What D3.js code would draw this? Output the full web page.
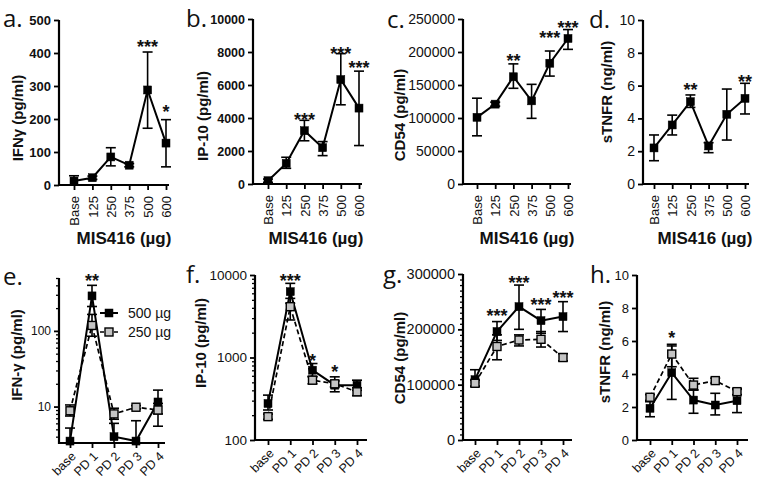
<!DOCTYPE html>
<html><head><meta charset="utf-8">
<script src="https://cdn.jsdelivr.net/npm/d3@7"></script>
<style>body{margin:0;background:#fff} svg{display:block}</style>
</head><body>
<svg id="chart" width="759" height="485"></svg>
<script>
// ---------- DATA ----------
const doseCats = ["Base","125","250","375","500","600"];
const dayCats  = ["base","PD 1","PD 2","PD 3","PD 4"];

// a. IFNγ vs dose
const ifnMean = [12,22,85,60,288,127];
const ifnLow  = [0,17,58,55,172,55];
const ifnHigh = [28,27,113,65,403,198];
const ifnTicks = [0,100,200,300,400,500];
const ifnStars = [{cat:"500",label:"***",at:434},{cat:"600",label:"*",at:235}];

// b. IP-10 vs dose
const ipMean = [200,1250,3230,2200,6330,4600];
const ipLow  = [100,950,2620,1720,4800,2330];
const ipHigh = [300,1620,3860,2570,7900,6840];
const ipTicks = [0,2000,4000,6000,8000,10000];
const ipStars = [{cat:"250",label:"***",at:4200},{cat:"500",label:"***",at:8140},{cat:"600",label:"***",at:7330}];

// c. CD54 vs dose
const cdMean = [101000,121000,162500,126000,183000,220500];
const cdLow  = [73000,118000,145000,99500,163500,204000];
const cdHigh = [130000,124000,182000,151000,201500,234000];
const cdTicks = [0,50000,100000,150000,200000,250000];
const cdStars = [{cat:"250",label:"**",at:193000},{cat:"500",label:"***",at:228000},{cat:"600",label:"***",at:244000}];

// d. sTNFR vs dose
const tnMean = [2.2,3.6,5.02,2.32,4.25,5.22];
const tnLow  = [1.42,2.99,4.67,1.91,2.68,4.27];
const tnHigh = [2.99,4.2,5.43,2.52,5.79,6.14];
const tnTicks = [0,2,4,6,8,10];
const tnStars = [{cat:"250",label:"**",at:6.04},{cat:"600",label:"**",at:6.54}];

// series names
const seriesNames = ["500 µg","250 µg"];

// e. IFN-γ over days (log)
const eHiMean = [3.5,290,4.0,3.5,11.5];
const eHiLow  = [3.3,210,3.3,3.3,8.0];
const eHiHigh = [5.2,400,6.0,6.5,16.5];
const eLoMean = [8.8,118,8.0,9.8,9.0];
const eLoLow  = [7.5,85,6.8,9.3,5.5];
const eLoHigh = [10.5,165,9.5,10.3,11.0];
const eTicks = [10,100];
const eMinor = [4,5,6,7,8,9,20,30,40,50,60,70,80,90,200,300,400,500];
const eStars = [{cat:"PD 1",label:"**",at:530}];

// f. IP-10 over days (log)
const fHiMean = [277,6280,702,462,462];
const fHiLow  = [231,4540,583,384,400];
const fHiHigh = [350,7920,845,583,531];
const fLoMean = [192,4130,531,480,384];
const fLoLow  = [178,2850,480,440,345];
const fLoHigh = [206,5210,590,520,430];
const fTicks = [100,1000,10000];
const fMinor = [200,300,400,500,600,700,800,900,2000,3000,4000,5000,6000,7000,8000,9000];
const fStars = [{cat:"PD 1",label:"***",at:9800},{cat:"PD 2",label:"*",at:1040},{cat:"PD 3",label:"*",at:757}];

// g. CD54 over days
const gHiMean = [109000,196000,241000,215700,223000];
const gHiLow  = [97000,180000,200000,193000,196000];
const gHiHigh = [127000,214000,280000,236000,250000];
const gLoMean = [102500,169000,180700,182000,149000];
const gLoLow  = [97000,145000,170000,168000,143000];
const gLoHigh = [108000,190000,190000,196000,156000];
const gTicks = [0,100000,200000,300000];
const gMinor = d3.range(10000,300000,10000).filter(v => v % 100000 !== 0);
const gStars = [{cat:"PD 1",label:"***",at:232000},{cat:"PD 2",label:"***",at:292000},{cat:"PD 3",label:"***",at:252000},{cat:"PD 4",label:"***",at:266000}];

// h. sTNFR over days
const hHiMean = [1.92,4.08,2.42,2.12,2.38];
const hHiLow  = [1.41,2.46,1.62,1.52,1.66];
const hHiHigh = [2.32,5.7,3.03,2.83,3.07];
const hLoMean = [2.59,5.21,3.33,3.6,2.93];
const hLoLow  = [2.4,4.44,3.03,3.45,2.75];
const hLoHigh = [2.75,5.8,3.74,3.75,3.1];
const hTicks = [0,2,4,6,8,10];
const hStars = [{cat:"PD 1",label:"*",at:6.45}];

// ---------- DRAWING ----------
const svg = d3.select("#chart");
const FONT = "'Liberation Sans', Arial, sans-serif";
const LETTER_FONT = "'Open Sans', 'Liberation Sans', sans-serif";
const GRAY = "#c4c4c4";

function zip(cats, mean, lo, hi) {
  return cats.map((c,i) => ({cat:c, v:mean[i], lo:lo[i], hi:hi[i]}));
}

function panel(cfg) {
  const g = svg.append("g");
  const y = (cfg.log ? d3.scaleLog() : d3.scaleLinear()).domain(cfg.domain).range(cfg.yRange);
  const x = d3.scalePoint().domain(cfg.cats).range(cfg.xRange);
  const y0 = cfg.yRange[0], yTop = cfg.yRange[1];

  if (cfg.minor) {
    const mg = g.append("g").attr("transform",`translate(${cfg.ax},0)`)
      .call(d3.axisLeft(y).tickValues(cfg.minor).tickSize(3).tickFormat(""));
    mg.select(".domain").remove();
    mg.selectAll("line").attr("stroke","#000").attr("stroke-width",1.3);
  }
  const yg = g.append("g").attr("transform",`translate(${cfg.ax},0)`)
    .call(d3.axisLeft(y).tickValues(cfg.ticks).tickSize(5).tickPadding(3).tickFormat(d3.format("d")));
  yg.select(".domain").remove();
  yg.selectAll("line").attr("stroke","#000").attr("stroke-width",1.8);
  yg.selectAll("text").attr("font-family",FONT).attr("font-size",cfg.tickFont)
    .attr("font-weight",cfg.tickWeight || "normal").attr("fill","#111");
  g.append("line").attr("x1",cfg.ax).attr("x2",cfg.ax).attr("y1",y0+1).attr("y2",yTop)
    .attr("stroke","#000").attr("stroke-width",2.2);

  const xg = g.append("g").attr("transform",`translate(0,${y0})`)
    .call(d3.axisBottom(x).tickSize(5).tickPadding(6));
  xg.select(".domain").remove();
  xg.selectAll("line").attr("stroke","#000").attr("stroke-width",1.8);
  const xt = xg.selectAll("text").attr("font-family",FONT).attr("font-size",cfg.xTickFont).attr("fill","#111");
  if (cfg.rot === -90) {
    xt.attr("text-anchor","end").attr("transform","rotate(-90)")
      .attr("x",-11).attr("y",0).attr("dy","0.36em");
  } else {
    xt.attr("text-anchor","end").attr("y",0).attr("dy","0.35em")
      .attr("transform","translate(3,11) rotate(-45)");
  }
  g.append("line").attr("x1",cfg.ax-1).attr("x2",cfg.xEnd).attr("y1",y0).attr("y2",y0)
    .attr("stroke","#000").attr("stroke-width",2.2);

  const line = d3.line().x(d => x(d.cat)).y(d => y(d.v));
  cfg.series.forEach(s => {
    g.append("path").datum(s.data).attr("d",line).attr("fill","none")
      .attr("stroke","#000").attr("stroke-width",s.dashed ? 1.7 : 2)
      .attr("stroke-dasharray", s.dashed ? "5,3" : null);
  });
  cfg.series.forEach(s => {
    const eb = g.append("g").selectAll("g").data(s.data).join("g");
    eb.append("line").attr("x1",d=>x(d.cat)).attr("x2",d=>x(d.cat))
      .attr("y1",d=>y(d.lo)).attr("y2",d=>y(d.hi)).attr("stroke","#000").attr("stroke-width",1.6);
    eb.append("line").attr("x1",d=>x(d.cat)-5).attr("x2",d=>x(d.cat)+5)
      .attr("y1",d=>y(d.hi)).attr("y2",d=>y(d.hi)).attr("stroke","#000").attr("stroke-width",1.6);
    eb.append("line").attr("x1",d=>x(d.cat)-5).attr("x2",d=>x(d.cat)+5)
      .attr("y1",d=>y(d.lo)).attr("y2",d=>y(d.lo)).attr("stroke","#000").attr("stroke-width",1.6);
  });
  cfg.series.forEach(s => {
    const sz = 8;
    g.append("g").selectAll("rect").data(s.data).join("rect")
      .attr("x",d=>x(d.cat)-sz/2).attr("y",d=>y(d.v)-sz/2).attr("width",sz).attr("height",sz)
      .attr("fill", s.gray ? GRAY : "#000").attr("stroke","#000").attr("stroke-width", s.gray ? 1.4 : 0.5);
  });

  g.append("g").selectAll("text").data(cfg.stars).join("text")
    .attr("x",d=>x(d.cat)).attr("y",d=>y(d.at)).attr("dy","0.6em")
    .attr("text-anchor","middle").attr("font-family",FONT).attr("font-weight","bold")
    .attr("font-size",18).attr("fill","#111").text(d=>d.label);

  g.append("text").attr("transform",`translate(${cfg.yTitle[0]},${cfg.yTitle[1]}) rotate(-90)`)
    .attr("text-anchor","middle").attr("dy","0.35em").attr("font-family",FONT).attr("font-weight","bold")
    .attr("font-size",cfg.yTitleFont || 15).attr("fill","#111").text(cfg.yLabel);
  if (cfg.xLabel) {
    g.append("text").attr("x",cfg.xTitle[0]).attr("y",cfg.xTitle[1]).attr("text-anchor","middle")
      .attr("font-family",FONT).attr("font-weight","bold").attr("font-size",17).attr("fill","#111")
      .text(cfg.xLabel);
  }
  g.append("text").attr("x",cfg.letterPos[0]).attr("y",cfg.letterPos[1])
    .attr("font-family",LETTER_FONT).attr("font-size",24).attr("fill","#111").text(cfg.letter);

  if (cfg.legend) {
    cfg.series.forEach((s,i) => {
      const ly = cfg.legend[1] + i*19, lx = cfg.legend[0];
      g.append("line").attr("x1",lx).attr("x2",lx+18).attr("y1",ly).attr("y2",ly)
        .attr("stroke","#000").attr("stroke-width",s.dashed?1.7:2).attr("stroke-dasharray",s.dashed?"4,3":null);
      g.append("rect").attr("x",lx+9-4).attr("y",ly-4).attr("width",8).attr("height",8)
        .attr("fill",s.gray?GRAY:"#000").attr("stroke","#000").attr("stroke-width",s.gray?1.4:0.5);
      g.append("text").attr("x",lx+28).attr("y",ly).attr("dy","0.35em").attr("font-family",FONT)
        .attr("font-size",14).attr("fill","#111").text(s.name);
    });
  }
}

const topCfg = {cats:doseCats, rot:-90, xTickFont:13, tickFont:13, tickWeight:"bold", xLabel:"MIS416 (µg)"};
panel({...topCfg, letter:"a.", letterPos:[3,27], ax:59, yRange:[185,20], xRange:[74,166], xEnd:169,
  domain:[0,500], ticks:ifnTicks, yLabel:"IFNγ (pg/ml)", yTitle:[18,118], xTitle:[124,244],
  series:[{data:zip(doseCats,ifnMean,ifnLow,ifnHigh)}], stars:ifnStars});
panel({...topCfg, letter:"b.", letterPos:[186,27], ax:253, yRange:[184,19], xRange:[268,359], xEnd:362,
  tickFont:12.5, domain:[0,10000], ticks:ipTicks, yLabel:"IP-10 (pg/ml)", yTitle:[203,116], xTitle:[316,244],
  series:[{data:zip(doseCats,ipMean,ipLow,ipHigh)}], stars:ipStars});
panel({...topCfg, letter:"c.", letterPos:[387,28], ax:463, yRange:[184,19], xRange:[477,568], xEnd:571,
  tickFont:14, tickWeight:"normal", domain:[0,250000], ticks:cdTicks, yLabel:"CD54 (pg/ml)", yTitle:[400,115], xTitle:[527,244],
  series:[{data:zip(doseCats,cdMean,cdLow,cdHigh)}], stars:cdStars});
panel({...topCfg, letter:"d.", letterPos:[589,28], ax:643, yRange:[184,20], xRange:[654,745], xEnd:749,
  domain:[0,10], ticks:tnTicks, tickWeight:"normal", tickFont:14, yLabel:"sTNFR (ng/ml)", yTitle:[607,92], xTitle:[705,244],
  series:[{data:zip(doseCats,tnMean,tnLow,tnHigh)}], stars:tnStars});

const botCfg = {cats:dayCats, rot:-45, xTickFont:12.5};
panel({...botCfg, letter:"e.", letterPos:[3,285], ax:59, yRange:[443,278], xRange:[70,158], xEnd:165,
  log:true, domain:[3.3,500], ticks:eTicks, minor:eMinor, tickFont:12, yLabel:"IFN-γ (pg/ml)", yTitle:[17,355],
  series:[{name:seriesNames[0],data:zip(dayCats,eHiMean,eHiLow,eHiHigh)},
          {name:seriesNames[1],gray:true,dashed:true,data:zip(dayCats,eLoMean,eLoLow,eLoHigh)}],
  stars:eStars, legend:[100,313]});
panel({...botCfg, letter:"f.", letterPos:[186,283], ax:255, yRange:[440,275], xRange:[268,357], xEnd:367,
  log:true, domain:[100,10000], ticks:fTicks, minor:fMinor, tickFont:13.5, yLabel:"IP-10 (pg/ml)", yTitle:[201,343],
  series:[{data:zip(dayCats,fHiMean,fHiLow,fHiHigh)},
          {gray:true,dashed:true,data:zip(dayCats,fLoMean,fLoLow,fLoHigh)}], stars:fStars});
panel({...botCfg, letter:"g.", letterPos:[383,283], ax:463, yRange:[440,274], xRange:[475,563], xEnd:572,
  domain:[0,300000], ticks:gTicks, minor:gMinor, tickFont:14.5, yLabel:"CD54 (pg/ml)", yTitle:[400,358],
  series:[{data:zip(dayCats,gHiMean,gHiLow,gHiHigh)},
          {gray:true,dashed:true,data:zip(dayCats,gLoMean,gLoLow,gLoHigh)}], stars:gStars});
panel({...botCfg, letter:"h.", letterPos:[590,283], ax:637, yRange:[440,275], xRange:[650,737], xEnd:748,
  domain:[0,10], ticks:hTicks, tickFont:13, yLabel:"sTNFR (ng/ml)", yTitle:[605,352],
  series:[{data:zip(dayCats,hHiMean,hHiLow,hHiHigh)},
          {gray:true,dashed:true,data:zip(dayCats,hLoMean,hLoLow,hLoHigh)}], stars:hStars});
</script>
</body></html>
